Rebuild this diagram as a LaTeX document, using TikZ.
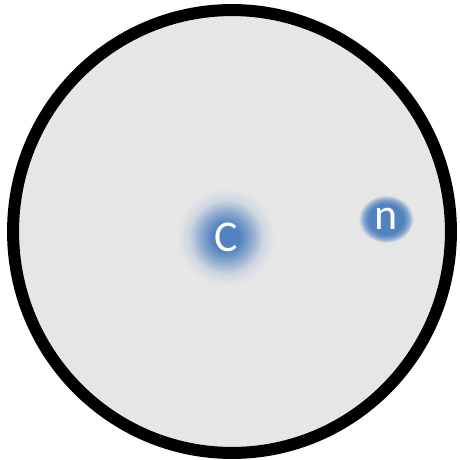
\documentclass[tikz,border=0pt]{standalone}
\usepackage{fontspec}
\setmainfont{Carlito}
\usepackage{tikz}
\usetikzlibrary{shapes.geometric}

\definecolor{cellgray}{HTML}{E6E6E6}
\definecolor{nblue}{HTML}{5282C0}

\pgfdeclareradialshading{cglow}{\pgfpointorigin}{%
  color(0bp)=(nblue); color(7bp)=(nblue); color(13bp)=(nblue!60!cellgray);
  color(19bp)=(nblue!15!cellgray); color(25bp)=(cellgray); color(50bp)=(cellgray)}
\pgfdeclareradialshading{nglow}{\pgfpointorigin}{%
  color(0bp)=(nblue); color(16bp)=(nblue); color(21bp)=(nblue!60!cellgray);
  color(25bp)=(cellgray); color(50bp)=(cellgray)}

\begin{document}
\begin{tikzpicture}[
  x=0.02cm, y=-0.02cm,
  cell/.style={ellipse, draw, line width=0.24cm, fill=cellgray, inner sep=0pt},
  blob/.style={inner sep=0pt, text=white, font=\fontsize{25}{30}\selectfont}
]
  \useasboundingbox (0,0) rectangle (460,460);

  % Cell
  \node[cell, minimum width=8.76cm, minimum height=8.86cm] (cell) at (232,231.5) {};

  % Glows with their letters
  \node[blob, circle, shading=cglow, minimum size=1.96cm] (c) at (226,237) {C};
  \node[blob, ellipse, shading=nglow, minimum width=1.1cm, minimum height=0.96cm] (n) at (386,219) {n};
\end{tikzpicture}
\end{document}
